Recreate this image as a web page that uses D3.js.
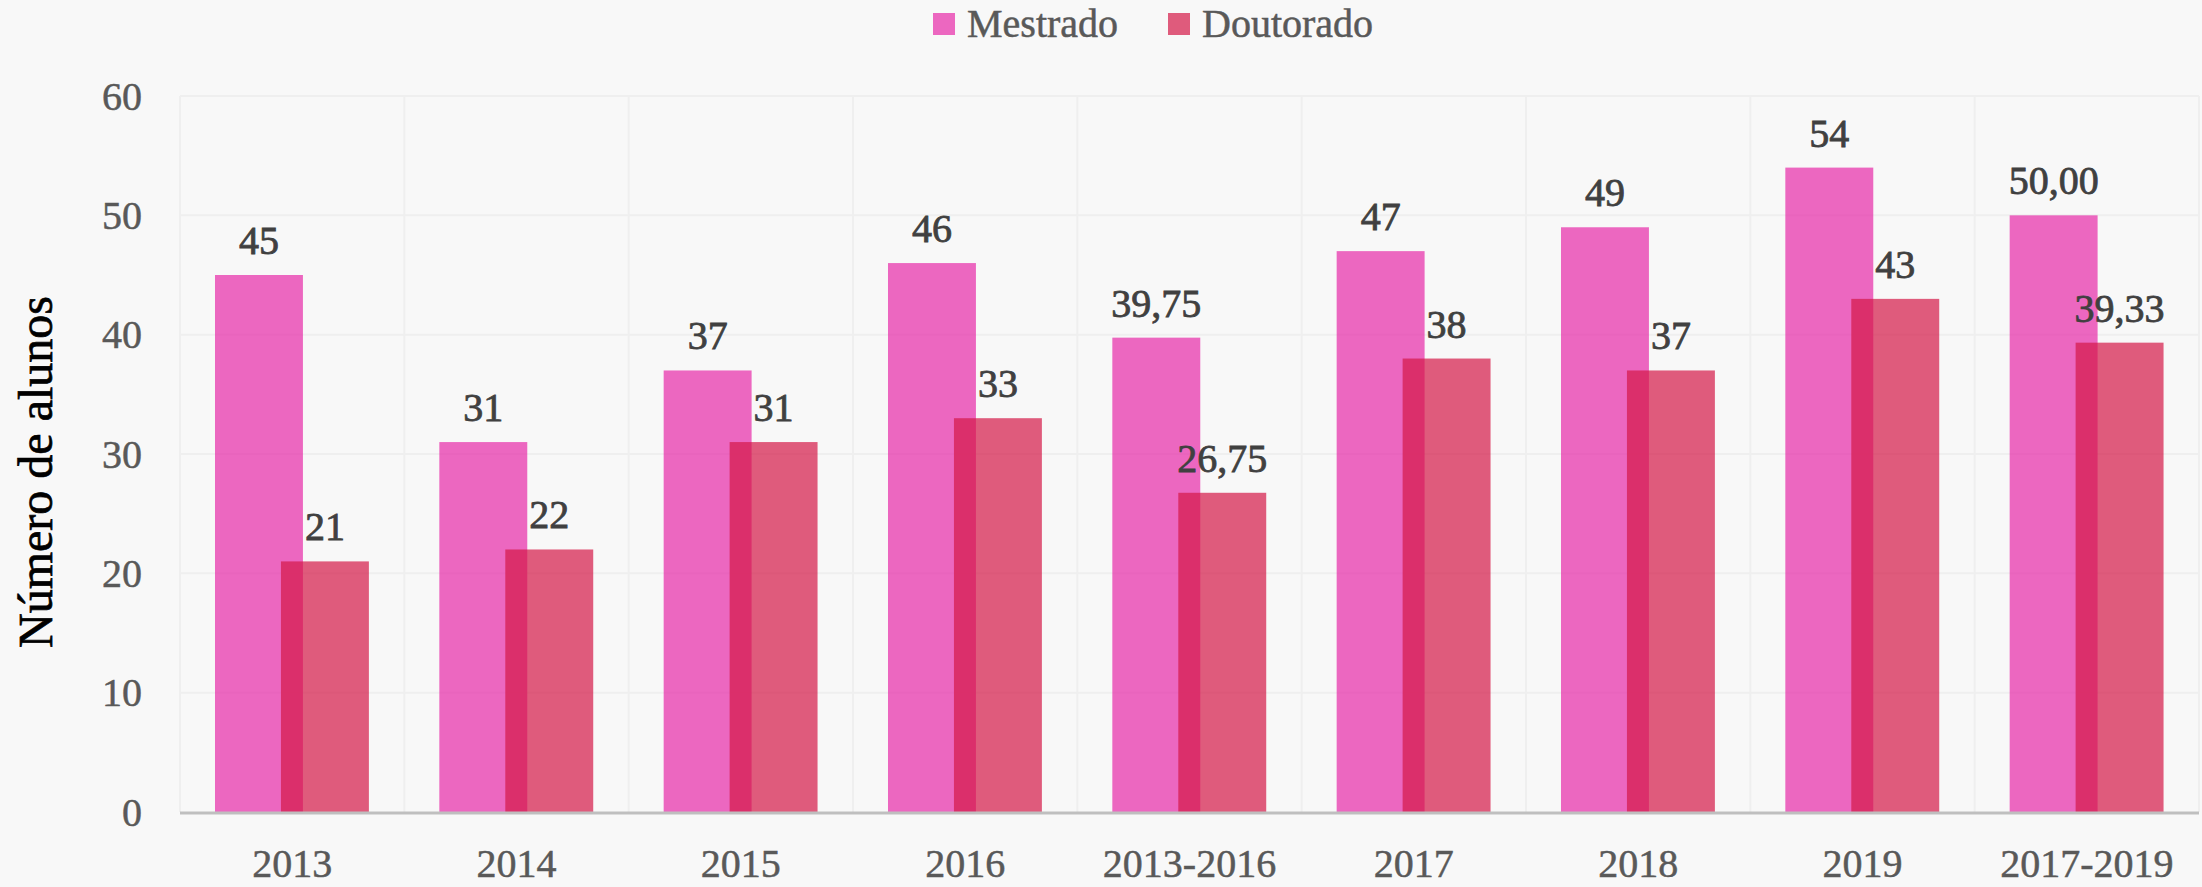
<!DOCTYPE html>
<html>
<head>
  <meta charset="UTF-8">
  <style>
    body { margin: 0; background: #f8f8f8; }
    svg { display: block; font-family: 'Liberation Serif', 'DejaVu Serif', serif; }
    .grid line { stroke: #efefef; stroke-width: 2px; }
    .tick-y { fill: #595959; stroke: #595959; stroke-width: 0.5px; font-size: 40px; text-anchor: end; }
    .tick-x { fill: #595959; stroke: #595959; stroke-width: 0.5px; font-size: 40px; text-anchor: middle; }
    .lbl { fill: #404040; stroke: #404040; stroke-width: 0.8px; font-size: 40px; text-anchor: middle; }
    .legend text { fill: #595959; stroke: #595959; stroke-width: 0.5px; font-size: 40px; }
  </style>
</head>
<body>
<script src="https://cdn.jsdelivr.net/npm/d3@7"></script>
<script>
  const categories = ["2013", "2014", "2015", "2016", "2013-2016", "2017", "2018", "2019", "2017-2019"];
  const mestrado = [45, 31, 37, 46, 39.75, 47, 49, 54, 50.00];
  const doutorado = [21, 22, 31, 33, 26.75, 38, 37, 43, 39.33];
  const mestradoLabels = ["45", "31", "37", "46", "39,75", "47", "49", "54", "50,00"];
  const doutoradoLabels = ["21", "22", "31", "33", "26,75", "38", "37", "43", "39,33"];
  const yTicks = [0, 10, 20, 30, 40, 50, 60];

  let width = 2202,
    height = 887;
  let margin = {left: 180, right: 3, top: 96, bottom: 75};

  let series = [
    {name: "Mestrado", values: mestrado, labels: mestradoLabels, color: "rgb(231,42,168)"},
    {name: "Doutorado", values: doutorado, labels: doutoradoLabels, color: "rgb(212,24,71)"}
  ];

  let svg = d3.select("body").append("svg")
    .attr("width", width)
    .attr("height", height);

  let x = d3.scaleBand()
    .domain(categories)
    .range([margin.left, width - margin.right]);

  let y = d3.scaleLinear()
    .domain([0, 60])
    .range([height - margin.bottom, margin.top]);

  let bw = x.bandwidth();
  // the two bars overlap a little inside each band
  let barW = bw * 0.392;
  let inner = d3.scaleLinear().domain([0, 1]).range([bw * 0.156, bw * 0.45]);

  // grid
  let grid = svg.append("g").attr("class", "grid");
  grid.selectAll(".h")
    .data(yTicks.filter(d => d > 0))
    .enter().append("line")
    .attr("x1", margin.left).attr("x2", width - margin.right)
    .attr("y1", d => y(d)).attr("y2", d => y(d));
  grid.selectAll(".v")
    .data(categories)
    .enter().append("line")
    .attr("x1", d => x(d)).attr("x2", d => x(d))
    .attr("y1", y(60)).attr("y2", y(0));
  grid.append("line")
    .attr("x1", x.range()[1]).attr("x2", x.range()[1])
    .attr("y1", y(60)).attr("y2", y(0));

  // bars
  series.forEach((s, si) => {
    svg.append("g")
      .selectAll("rect")
      .data(s.values)
      .enter()
      .append("rect")
      .attr("x", (d, i) => x(categories[i]) + inner(si))
      .attr("y", d => y(d))
      .attr("width", barW)
      .attr("height", d => y(0) - y(d))
      .attr("fill", s.color)
      .attr("fill-opacity", 0.7);
  });

  // data labels
  series.forEach((s, si) => {
    svg.append("g")
      .selectAll("text")
      .data(s.values)
      .enter()
      .append("text")
      .attr("class", "lbl")
      .attr("x", (d, i) => x(categories[i]) + inner(si) + barW / 2)
      .attr("y", d => y(d) - 21)
      .text((d, i) => s.labels[i]);
  });

  // baseline
  svg.append("line")
    .attr("x1", margin.left).attr("x2", width - margin.right)
    .attr("y1", y(0) + 1).attr("y2", y(0) + 1)
    .attr("stroke", "#bfbfbf")
    .attr("stroke-width", 3);

  // axis labels
  svg.append("g")
    .selectAll("text")
    .data(yTicks)
    .enter().append("text")
    .attr("class", "tick-y")
    .attr("x", 142)
    .attr("y", d => y(d))
    .attr("dy", "0.34em")
    .text(d => d);

  svg.append("g")
    .selectAll("text")
    .data(categories)
    .enter().append("text")
    .attr("class", "tick-x")
    .attr("x", d => x(d) + bw / 2)
    .attr("y", 877)
    .text(d => d);

  svg.append("text")
    .attr("transform", "translate(52," + 472 + ") rotate(-90)")
    .attr("text-anchor", "middle")
    .attr("fill", "#000")
    .attr("stroke", "#000")
    .attr("stroke-width", 0.7)
    .attr("font-size", "48px")
    .text("Número de alunos");

  // legend
  let legend = svg.append("g").attr("class", "legend");
  let legendX = [933, 1168];
  series.forEach((s, si) => {
    legend.append("rect")
      .attr("x", legendX[si]).attr("y", 13)
      .attr("width", 22).attr("height", 22)
      .attr("fill", s.color)
      .attr("fill-opacity", 0.7);
    legend.append("text")
      .attr("x", legendX[si] + 34)
      .attr("y", 37)
      .text(s.name);
  });
</script>
</body>
</html>
